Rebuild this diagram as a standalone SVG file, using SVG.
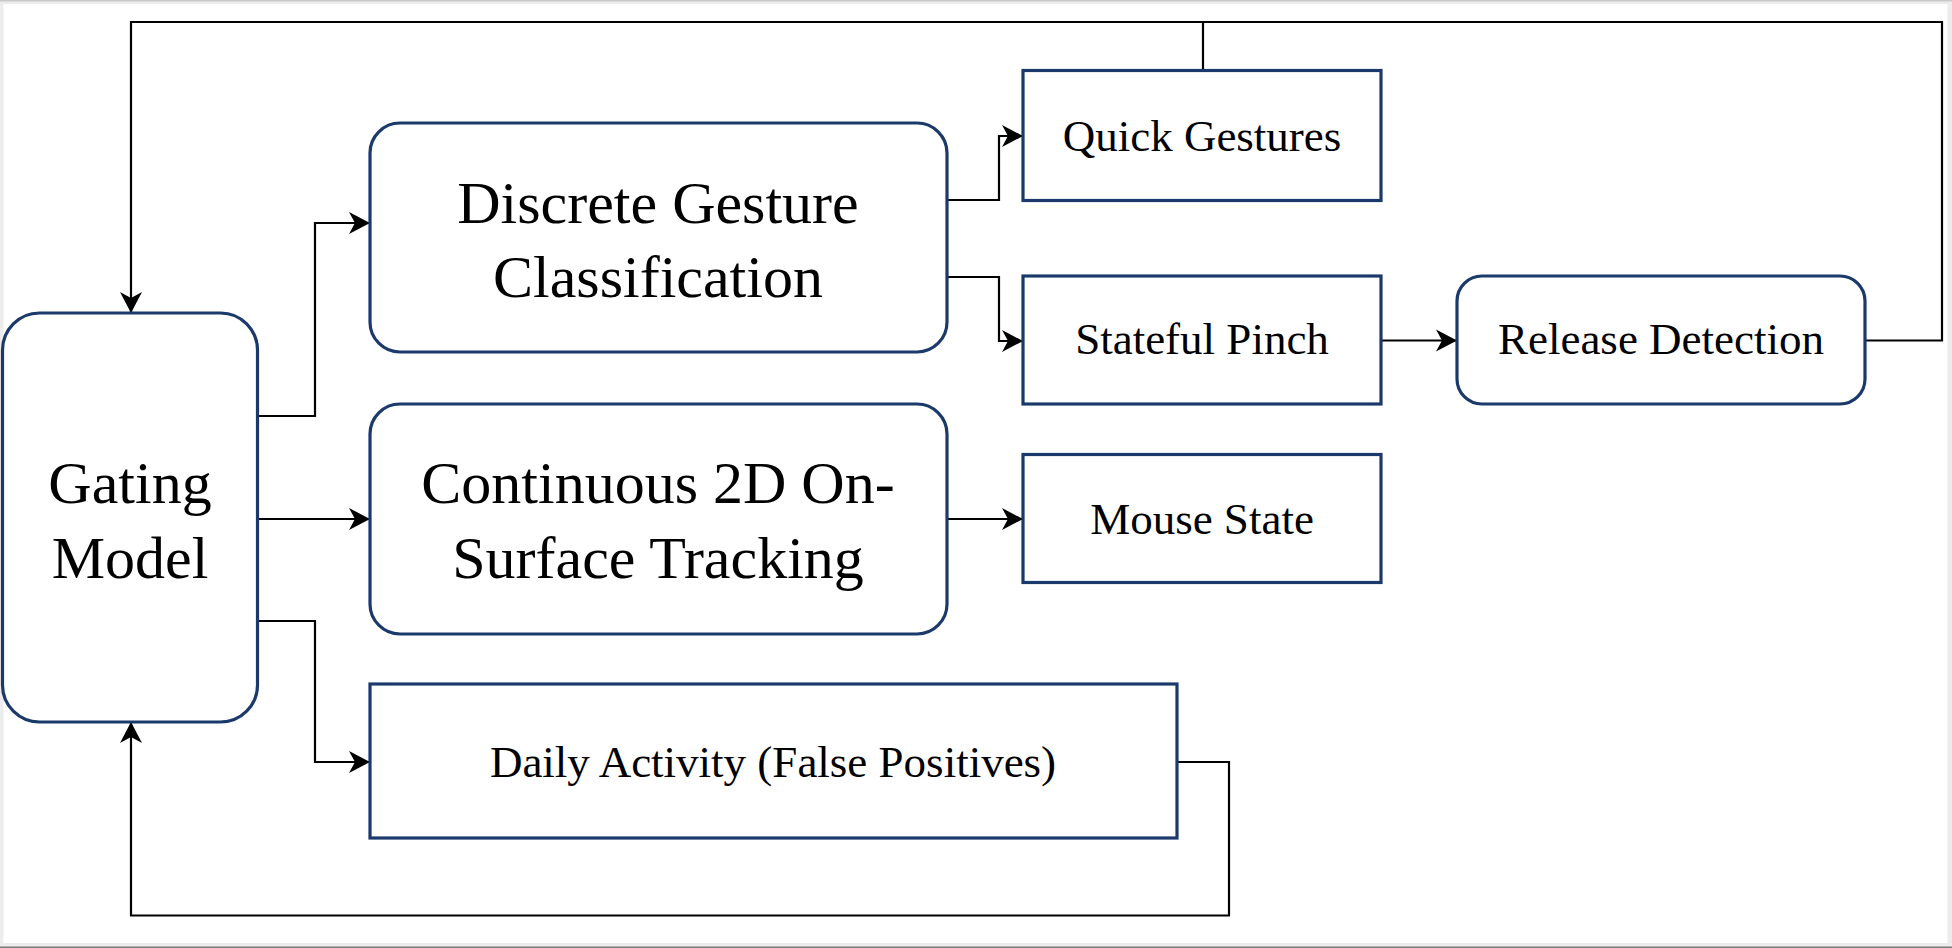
<svg xmlns="http://www.w3.org/2000/svg" width="1952" height="948" viewBox="0 0 1952 948">
  <defs>
    <marker id="arr" markerUnits="userSpaceOnUse" markerWidth="24" markerHeight="24" refX="21" refY="11" orient="auto" overflow="visible">
      <path d="M0,0 L21,11 L0,22 L6,11 Z" fill="#000"/>
    </marker>
    <style>
      .node { fill: #ffffff; stroke: #1b3a6b; stroke-width: 3.2; }
      .conn { fill: none; stroke: #000; stroke-width: 2.2; }
      .big { font-family: "Liberation Serif", "Times New Roman", serif; font-size: 60px; fill: #000; text-anchor: middle; }
      .small { font-family: "Liberation Serif", "Times New Roman", serif; font-size: 45px; fill: #000; text-anchor: middle; }
    </style>
  </defs>

  <rect x="0" y="0" width="1952" height="948" fill="#ececec"/>
  <rect x="0" y="0" width="1952" height="1.5" fill="#c8c8c8"/>
  <rect x="0" y="946.5" width="1952" height="1.5" fill="#7a7a7a"/>
  <rect x="3.5" y="4" width="1944" height="939" fill="#ffffff"/>

  <g id="connectors">
    <path class="conn" d="M258,416 H315 V223 H370" marker-end="url(#arr)"/>
    <path class="conn" d="M258,519 H370" marker-end="url(#arr)"/>
    <path class="conn" d="M258,621 H315 V762 H370" marker-end="url(#arr)"/>
    <path class="conn" d="M947,200 H999 V136 H1023" marker-end="url(#arr)"/>
    <path class="conn" d="M947,277 H999 V341 H1023" marker-end="url(#arr)"/>
    <path class="conn" d="M947,519 H1023" marker-end="url(#arr)"/>
    <path class="conn" d="M1381,340.5 H1457" marker-end="url(#arr)"/>
    <path class="conn" d="M1865,340.5 H1942 V22 H131 V313" marker-end="url(#arr)"/>
    <path class="conn" d="M1203,70 V22"/>
    <path class="conn" d="M1177,762 H1229 V915.5 H131 V722" marker-end="url(#arr)"/>
  </g>

  <g id="gating">
    <rect class="node" x="2.5" y="313" width="255" height="409" rx="37" ry="37"/>
    <text class="big" x="130" y="503">Gating</text>
    <text class="big" x="130" y="577.5">Model</text>
  </g>

  <g id="discrete">
    <rect class="node" x="370" y="123" width="577" height="229" rx="30" ry="30"/>
    <text class="big" x="658" y="222.7">Discrete Gesture</text>
    <text class="big" x="658" y="296.7">Classification</text>
  </g>

  <g id="continuous">
    <rect class="node" x="370" y="404" width="577" height="230" rx="30" ry="30"/>
    <text class="big" x="658" y="503">Continuous 2D On-</text>
    <text class="big" x="658" y="577.5">Surface Tracking</text>
  </g>

  <g id="daily">
    <rect class="node" x="370" y="684" width="807" height="154"/>
    <text class="small" x="773" y="776.7">Daily Activity (False Positives)</text>
  </g>

  <g id="quick">
    <rect class="node" x="1023" y="70.5" width="358" height="130"/>
    <text class="small" x="1202" y="150.7">Quick Gestures</text>
  </g>

  <g id="stateful">
    <rect class="node" x="1023" y="276" width="358" height="128"/>
    <text class="small" x="1202" y="354">Stateful Pinch</text>
  </g>

  <g id="mouse">
    <rect class="node" x="1023" y="454.5" width="358" height="128"/>
    <text class="small" x="1202" y="534">Mouse State</text>
  </g>

  <g id="release">
    <rect class="node" x="1457" y="276" width="408" height="128" rx="25" ry="25"/>
    <text class="small" x="1661" y="354">Release Detection</text>
  </g>
</svg>
